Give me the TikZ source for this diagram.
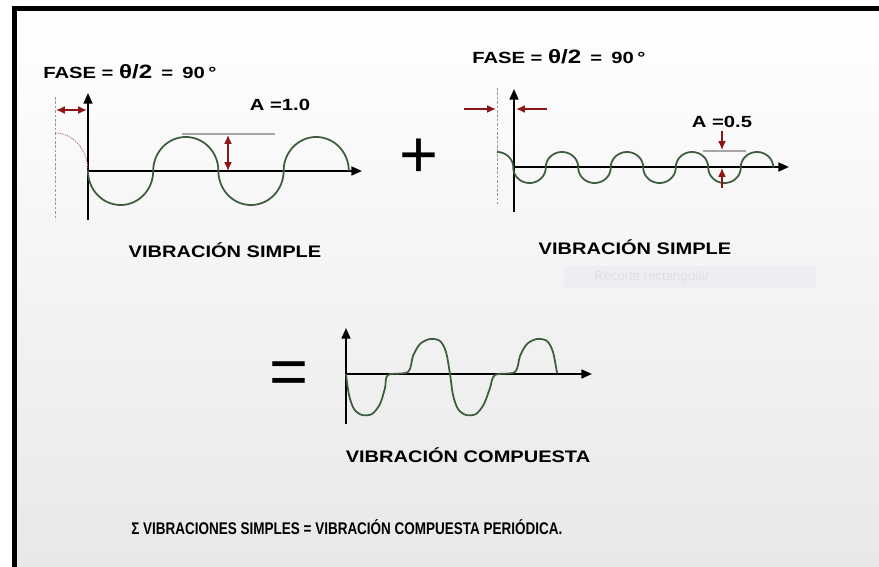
\documentclass[tikz,border=0pt]{standalone}
\usepackage{fontspec}
\setmainfont{Liberation Sans}
\newfontfamily\widesans[FakeStretch=1.2]{Liberation Sans}
\newfontfamily\labelsans[FakeStretch=1.25]{Liberation Sans}
\newfontfamily\narrowsans[FakeStretch=0.8]{Liberation Sans}
\usetikzlibrary{arrows.meta}

\definecolor{wavegreen}{RGB}{62,92,62}
\definecolor{dimred}{RGB}{140,22,22}
\definecolor{guidegray}{RGB}{165,165,165}
\definecolor{bggray}{RGB}{232,232,232}
\definecolor{ghostbox}{RGB}{236,238,243}
\definecolor{ghosttext}{RGB}{222,224,228}

\begin{document}
\begin{tikzpicture}[
            x=0.02cm, y=-0.02cm,
            axis/.style={line width=1.1pt, -{Triangle[length=6pt,width=5pt]}},
            wave/.style={line width=1pt, wavegreen},
            phase/.style={line width=0.5pt, dimred!60, dash pattern=on 0.8pt off 0.6pt},
            guide/.style={line width=0.6pt, guidegray},
            dashguide/.style={line width=0.5pt, gray!80, dash pattern=on 1.5pt off 1pt},
            dimboth/.style={line width=0.9pt, dimred, {Latex[length=5pt,width=4.5pt]}-{Latex[length=5pt,width=4.5pt]}},
            dimone/.style={line width=0.9pt, dimred, -{Latex[length=5pt,width=4.5pt]}},
            label/.style={font=\labelsans\bfseries\fontsize{9.2}{10}\selectfont, inner sep=0pt},
            caption/.style={font=\widesans\bfseries\fontsize{9.5}{11}\selectfont, inner sep=0pt},
            sign/.style={font=\fontsize{38}{40}\selectfont, inner sep=0pt}
        ]
            \useasboundingbox (0,0) rectangle (879,567);

            % fondo y marco
            \shade[top color=white, bottom color=bggray] (12,6) rectangle (879,567);
            \draw[line width=2.8pt] (14.5,570) -- (14.5,8.5) -- (882,8.5);

            % vibracion simple 1
            \node[label, anchor=west] (fase1) at (43,72)
                {FASE = {\fontsize{11}{11}\selectfont θ/2}\hspace{2pt} =\hspace{2pt} 90\hspace{2pt}°};
            \coordinate (o1) at (88,171);
            \draw[dashguide] (55,97) -- (55,220);
            \draw[axis] (88,220) -- (88,93);
            \draw[axis] (o1) -- (362,171);
            \draw[phase] plot[domain=0:90, samples=30] ({55+33*sin(\x)},{171-38*cos(\x)});
            \draw[wave] plot[domain=0:720, samples=161]
                ({88+32.6*(2*floor(\x/180)+1-cos(mod(\x,180)))},{171+34*sin(\x)});
            \coordinate (f1a) at (56,110);
            \coordinate (f1b) at (87,110);
            \draw[dimboth] (f1a) -- (f1b);
            \coordinate (g1a) at (182,134);
            \coordinate (g1b) at (275,134);
            \draw[guide] (g1a) -- (g1b);
            \coordinate (a1a) at (228,135);
            \coordinate (a1b) at (228,171);
            \draw[dimboth] (a1a) -- (a1b);
            \node[label] (amp1) at (280,105) {A =1.0};
            \node[caption] (cap1) at (225,250) {VIBRACIÓN SIMPLE};

            \node[sign] (plus) at (419,158) {+};

            % vibracion simple 2
            \node[label, anchor=west] (fase2) at (472,57)
                {FASE = {\fontsize{11}{11}\selectfont θ/2}\hspace{2pt} =\hspace{2pt} 90\hspace{2pt}°};
            \coordinate (o2) at (514,167);
            \draw[dashguide] (497,88) -- (497,204);
            \draw[axis] (514,212) -- (514,89);
            \draw[axis] (o2) -- (789,167);
            \draw[wave] plot[domain=270:1800, samples=341]
                ({448.25+16.25*(2*floor(\x/180)+1-cos(mod(\x,180)))},{167.5+15.5*sin(\x)});
            \coordinate (f2a) at (464,109);
            \coordinate (f2b) at (496,109);
            \coordinate (f2c) at (547,109);
            \coordinate (f2d) at (516,109);
            \draw[dimone] (f2a) -- (f2b);
            \draw[dimone] (f2c) -- (f2d);
            \coordinate (g2a) at (703,151);
            \coordinate (g2b) at (746,151);
            \draw[guide] (g2a) -- (g2b);
            \coordinate (a2a) at (722,131);
            \coordinate (a2b) at (722,150);
            \coordinate (a2c) at (722,188);
            \coordinate (a2d) at (722,168);
            \draw[dimone] (a2a) -- (a2b);
            \draw[dimone] (a2c) -- (a2d);
            \node[label] (amp2) at (722,122) {A =0.5};
            \node[caption] (cap2) at (635,247) {VIBRACIÓN SIMPLE};

            \fill[ghostbox] (564,266) rectangle (816,288);
            \node[font=\fontsize{7.5}{9}\selectfont, text=ghosttext, inner sep=0pt] (recorte) at (652,277) {Recorte rectangular};

            % vibracion compuesta
            \node[sign] (equal) at (289,378) {=};
            \coordinate (o3) at (346,374);
            \draw[axis] (346,424) -- (346,328);
            \draw[axis] (o3) -- (592,374);
            \draw[wave] plot[smooth, tension=0.5] coordinates {
                (346,374) (349,395) (354,409) (362,415) (372,414) (380,404)
                (385,388) (388,375) (408,372) (413,356) (420,344) (430,339)
                (440,341) (446,352) (450,374) (453,395) (458,409) (466,415)
                (476,414) (484,404) (490,388) (495,375) (515,372) (520,356)
                (527,344) (537,339) (547,341) (553,352) (557,373)};
            \node[caption] (cap3) at (468,455) {VIBRACIÓN COMPUESTA};

            \node[font=\narrowsans\bfseries\fontsize{9.6}{11}\selectfont, inner sep=0pt, anchor=west] (total) at (131,527)
                {Σ VIBRACIONES SIMPLES = VIBRACIÓN COMPUESTA PERIÓDICA.};
        \end{tikzpicture}
\end{document}
